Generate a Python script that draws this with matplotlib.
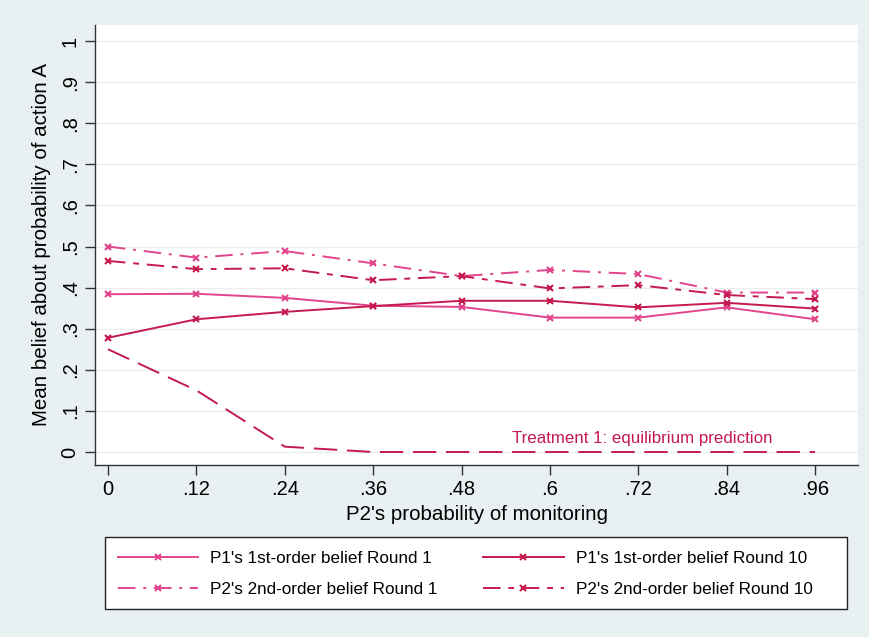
import matplotlib
matplotlib.use("Agg")
import matplotlib.pyplot as plt
from matplotlib.patches import Rectangle

# monitoring probabilities
monitoring = [0, 0.12, 0.24, 0.36, 0.48, 0.6, 0.72, 0.84, 0.96]
x_ticklabels = ["0", ".12", ".24", ".36", ".48", ".6", ".72", ".84", ".96"]
y_ticks = [0, .1, .2, .3, .4, .5, .6, .7, .8, .9, 1]
y_ticklabels = ["0", ".1", ".2", ".3", ".4", ".5", ".6", ".7", ".8", ".9", "1"]

p1_first_r1 = [0.384, 0.385, 0.375, 0.356, 0.353, 0.327, 0.327, 0.352, 0.323]
p1_first_r10 = [0.278, 0.323, 0.341, 0.355, 0.368, 0.368, 0.352, 0.363, 0.349]
p2_second_r1 = [0.500, 0.473, 0.489, 0.459, 0.428, 0.443, 0.433, 0.388, 0.388]
p2_second_r10 = [0.465, 0.445, 0.447, 0.418, 0.428, 0.398, 0.406, 0.382, 0.372]
equilibrium = [0.25, 0.15, 0.013, 0.0, 0.0, 0.0, 0.0, 0.0, 0.0]

plt.rcParams["font.family"] = ["Liberation Sans", "DejaVu Sans"]

W, H = 870, 637
bg = "#e9f0f2"
c_r1 = "#e2458c"
c_r10 = "#c41a4e"

fig = plt.figure(figsize=(W / 100, H / 100), dpi=100, facecolor=bg)
ax = fig.add_axes([95 / W, 1 - 465 / H, (858 - 95) / W, (465 - 25) / H])
ax.set_facecolor("white")

ax.set_xlim(-0.0177, 1.0183)
ax.set_ylim(-0.0316, 1.039)

for yv in y_ticks:
    ax.axhline(yv, color="#eaeeef", lw=1.0, zorder=0)

ms = 5
l1, = ax.plot(monitoring, p1_first_r1, color=c_r1, lw=1.4, marker="x", ms=ms, mew=1.5,
              label="P1's 1st-order belief Round 1")
l2, = ax.plot(monitoring, p1_first_r10, color=c_r10, lw=1.4, marker="x", ms=ms, mew=1.5,
              label="P1's 1st-order belief Round 10")
l3, = ax.plot(monitoring, p2_second_r1, color=c_r1, lw=1.4, marker="x", ms=ms, mew=1.5,
              linestyle=(0, (9, 4, 1.5, 4)), label="P2's 2nd-order belief Round 1")
l4, = ax.plot(monitoring, p2_second_r10, color=c_r10, lw=1.4, marker="x", ms=ms, mew=1.5,
              linestyle=(0, (9, 4, 3, 4)), label="P2's 2nd-order belief Round 10")
ax.plot(monitoring, equilibrium, color=c_r10, lw=1.4, linestyle=(0, (12, 5)))

ax.text(0.725, 0.034, "Treatment 1: equilibrium prediction", color=c_r10,
        fontsize=12.2, ha="center", va="center")

for s in ["top", "right"]:
    ax.spines[s].set_visible(False)
for s in ["left", "bottom"]:
    ax.spines[s].set_color("#333333")
    ax.spines[s].set_linewidth(1.0)

ax.set_xticks(monitoring)
ax.set_xticklabels(x_ticklabels, fontsize=14.5)
ax.set_yticks(y_ticks)
ax.set_yticklabels(y_ticklabels, fontsize=14.5, rotation=90, va="center")
ax.tick_params(axis="both", direction="out", length=7, width=1.0, color="#333333", pad=4)

ax.set_xlabel("P2's probability of monitoring", fontsize=14.8, labelpad=4)
ax.set_ylabel("Mean belief about probability of action A", fontsize=14.8, labelpad=7)

# legend box
fig.patches.append(Rectangle((105 / W, 1 - 609 / H), (847 - 105) / W, (609 - 537) / H,
                             transform=fig.transFigure, facecolor="white",
                             edgecolor="#222222", lw=1.0, zorder=1))
leg = fig.legend(handles=[l1, l3, l2, l4], ncol=2, loc="center left",
                 bbox_to_anchor=(109 / W, 1 - 574 / H), fontsize=12.3, frameon=False,
                 borderpad=0, handlelength=4.7, handletextpad=0.7,
                 labelspacing=0.9, columnspacing=2.7)
leg.set_zorder(2)

fig.savefig("out.png", dpi=100, facecolor=bg)
